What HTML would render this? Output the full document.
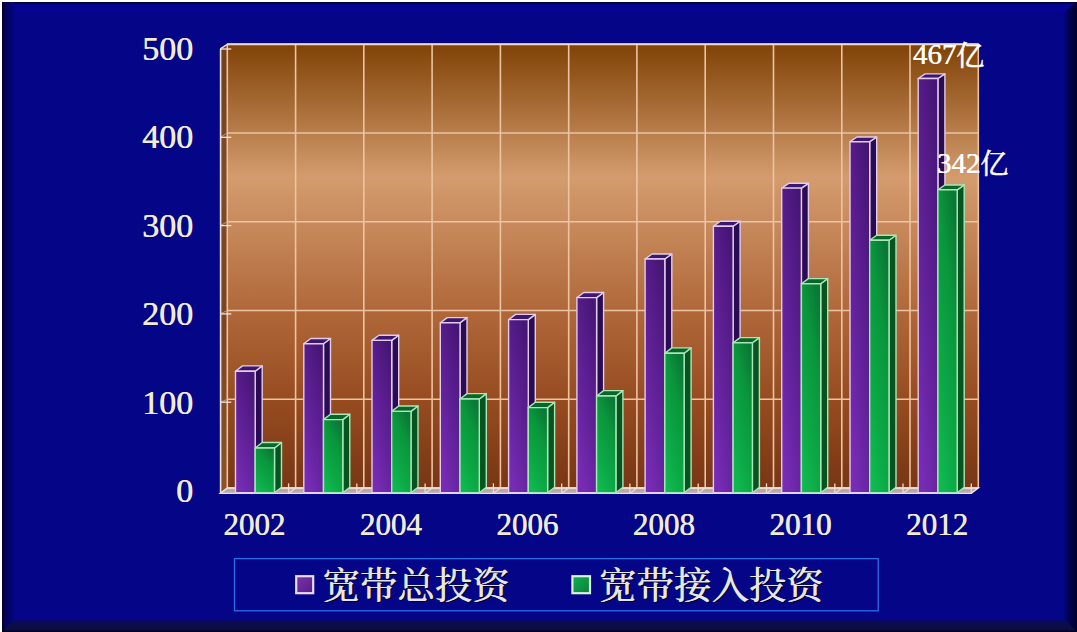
<!DOCTYPE html>
<html><head><meta charset="utf-8"><title>chart</title>
<style>html,body{margin:0;padding:0;background:#fff;}body{width:1077px;height:632px;overflow:hidden;font-family:"Liberation Serif",serif;}svg{display:block;}text{font-family:"Liberation Serif","Noto Serif CJK SC",serif;}</style>
</head><body>
<svg width="1077" height="632" viewBox="0 0 1077 632">
<defs>
<linearGradient id="wall" x1="0" y1="0" x2="0" y2="1"><stop offset="0" stop-color="#804206"/><stop offset="0.30" stop-color="#d49c6e"/><stop offset="0.60" stop-color="#b0683a"/><stop offset="0.80" stop-color="#964c20"/><stop offset="1" stop-color="#783614"/></linearGradient>
<linearGradient id="swall" x1="0" y1="0" x2="0" y2="1"><stop offset="0" stop-color="#70401a"/><stop offset="0.30" stop-color="#7e4c28"/><stop offset="0.60" stop-color="#7a4420"/><stop offset="1" stop-color="#8a5428"/></linearGradient>
<linearGradient id="pf" x1="0.75" y1="0" x2="0.25" y2="1"><stop offset="0" stop-color="#461676"/><stop offset="0.3" stop-color="#561c8a"/><stop offset="0.7" stop-color="#6825a2"/><stop offset="1" stop-color="#782cb6"/></linearGradient>
<linearGradient id="gf" x1="0.75" y1="0" x2="0.25" y2="1"><stop offset="0" stop-color="#0a7836"/><stop offset="0.3" stop-color="#0a963c"/><stop offset="0.7" stop-color="#0ca846"/><stop offset="1" stop-color="#10b850"/></linearGradient>
<linearGradient id="rb" x1="0" y1="0" x2="1" y2="0"><stop offset="0" stop-color="#050588"/><stop offset="0.3" stop-color="#03035e"/><stop offset="0.5" stop-color="#01014c"/><stop offset="1" stop-color="#000028"/></linearGradient>
<linearGradient id="bb" x1="0" y1="0" x2="0" y2="1"><stop offset="0" stop-color="#05057c"/><stop offset="0.25" stop-color="#0c0c4c"/><stop offset="0.8" stop-color="#0c0c44"/><stop offset="1" stop-color="#000010"/></linearGradient>
<linearGradient id="lb" x1="0" y1="0" x2="1" y2="0"><stop offset="0" stop-color="#000018"/><stop offset="0.25" stop-color="#03035c"/><stop offset="0.8" stop-color="#040470"/><stop offset="1" stop-color="#050588"/></linearGradient>
<linearGradient id="tb" x1="0" y1="0" x2="0" y2="1"><stop offset="0" stop-color="#000018"/><stop offset="0.2" stop-color="#04048c"/><stop offset="0.8" stop-color="#040498"/><stop offset="1" stop-color="#050588"/></linearGradient>
</defs>
<rect x="0" y="0" width="1077" height="632" fill="#ffffff"/>
<rect x="2" y="2" width="1075" height="630" fill="#050588"/>
<rect x="2" y="2" width="1075" height="11" fill="url(#tb)"/>
<rect x="2" y="2" width="12" height="630" fill="url(#lb)"/>
<polygon points="1063,13 1077,2 1077,632 1063,620" fill="url(#rb)"/>
<polygon points="2,632 14,619.5 1065,619.5 1077,632" fill="url(#bb)"/>
<polygon points="220.3,48.9 227.3,44.3 227.3,488.0 220.3,493.4" fill="url(#swall)"/>
<rect x="227.3" y="44.3" width="751.0" height="443.7" fill="url(#wall)"/>
<polygon points="220.3,493.4 227.3,488.0 978.3,488.0 971.3,493.4" fill="#b9a8a6"/>
<g stroke="#ecc4a4" stroke-width="1.6" fill="none">
<line x1="227.3" y1="44.3" x2="227.3" y2="488.0"/>
<line x1="295.6" y1="44.3" x2="295.6" y2="488.0"/>
<line x1="363.8" y1="44.3" x2="363.8" y2="488.0"/>
<line x1="432.1" y1="44.3" x2="432.1" y2="488.0"/>
<line x1="500.4" y1="44.3" x2="500.4" y2="488.0"/>
<line x1="568.7" y1="44.3" x2="568.7" y2="488.0"/>
<line x1="636.9" y1="44.3" x2="636.9" y2="488.0"/>
<line x1="705.2" y1="44.3" x2="705.2" y2="488.0"/>
<line x1="773.5" y1="44.3" x2="773.5" y2="488.0"/>
<line x1="841.8" y1="44.3" x2="841.8" y2="488.0"/>
<line x1="910.0" y1="44.3" x2="910.0" y2="488.0"/>
<line x1="978.3" y1="44.3" x2="978.3" y2="488.0"/>
<line x1="227.3" y1="488.0" x2="978.3" y2="488.0"/>
<line x1="227.3" y1="399.3" x2="978.3" y2="399.3"/>
<line x1="227.3" y1="310.5" x2="978.3" y2="310.5"/>
<line x1="227.3" y1="221.8" x2="978.3" y2="221.8"/>
<line x1="227.3" y1="133.0" x2="978.3" y2="133.0"/>
<line x1="227.3" y1="44.3" x2="978.3" y2="44.3"/>
</g>
<line x1="226.8" y1="44.3" x2="978.8" y2="44.3" stroke="#eed8cc" stroke-width="1.9"/>
<g stroke="#c8b4a8" stroke-width="1" opacity="0.75">
<line x1="220.3" y1="493.4" x2="227.3" y2="488.0"/>
<line x1="220.3" y1="402.2" x2="227.3" y2="399.3"/>
<line x1="220.3" y1="313.9" x2="227.3" y2="310.5"/>
<line x1="220.3" y1="225.6" x2="227.3" y2="221.8"/>
<line x1="220.3" y1="137.3" x2="227.3" y2="133.0"/>
<line x1="220.3" y1="49.0" x2="227.3" y2="44.3"/>
</g>
<g stroke="#ece4e4" stroke-width="1.3" fill="none">
<line x1="220.3" y1="402.2" x2="231.3" y2="402.2"/>
<line x1="220.3" y1="313.9" x2="231.3" y2="313.9"/>
<line x1="220.3" y1="225.6" x2="231.3" y2="225.6"/>
<line x1="220.3" y1="137.3" x2="231.3" y2="137.3"/>
<line x1="220.3" y1="49.0" x2="231.3" y2="49.0"/>
<line x1="220.6" y1="48.9" x2="220.6" y2="493.4" stroke-width="1.6"/>
<line x1="220.3" y1="48.9" x2="227.3" y2="44.3" stroke-width="1.3"/>
<polygon points="220.3,493.4 227.3,488.0 978.3,488.0 971.3,493.4" stroke-width="1.4"/>
</g>
<g stroke="#e6dcdc" stroke-width="1.2">
<line x1="295.6" y1="488.0" x2="288.6" y2="493.4"/>
<line x1="363.8" y1="488.0" x2="356.8" y2="493.4"/>
<line x1="432.1" y1="488.0" x2="425.1" y2="493.4"/>
<line x1="500.4" y1="488.0" x2="493.4" y2="493.4"/>
<line x1="568.7" y1="488.0" x2="561.7" y2="493.4"/>
<line x1="636.9" y1="488.0" x2="629.9" y2="493.4"/>
<line x1="705.2" y1="488.0" x2="698.2" y2="493.4"/>
<line x1="773.5" y1="488.0" x2="766.5" y2="493.4"/>
<line x1="841.8" y1="488.0" x2="834.8" y2="493.4"/>
<line x1="910.0" y1="488.0" x2="903.0" y2="493.4"/>
</g>
<g stroke="#f2dcc6" stroke-width="1.3">
<line x1="288.6" y1="483.4" x2="288.6" y2="493.4"/>
<line x1="356.8" y1="483.4" x2="356.8" y2="493.4"/>
<line x1="425.1" y1="483.4" x2="425.1" y2="493.4"/>
<line x1="493.4" y1="483.4" x2="493.4" y2="493.4"/>
<line x1="561.7" y1="483.4" x2="561.7" y2="493.4"/>
<line x1="629.9" y1="483.4" x2="629.9" y2="493.4"/>
<line x1="698.2" y1="483.4" x2="698.2" y2="493.4"/>
<line x1="766.5" y1="483.4" x2="766.5" y2="493.4"/>
<line x1="834.8" y1="483.4" x2="834.8" y2="493.4"/>
<line x1="903.0" y1="483.4" x2="903.0" y2="493.4"/>
<line x1="971.3" y1="483.4" x2="971.3" y2="493.4"/>
</g>
<g stroke="#e2cdea" stroke-width="1.4" stroke-linejoin="round"><polygon points="255.2,371.2 262.2,365.9 262.2,487.2 255.2,492.8" fill="#2a0c54"/><polygon points="235.5,371.2 242.5,365.9 262.2,365.9 255.2,371.2" fill="#3c1670"/><rect x="235.5" y="371.2" width="19.7" height="121.6" fill="url(#pf)"/></g>
<g stroke="#a9e6b8" stroke-width="1.4" stroke-linejoin="round"><polygon points="274.5,448.0 281.5,442.5 281.5,487.2 274.5,492.8" fill="#06541f"/><polygon points="255.2,448.0 262.2,442.5 281.5,442.5 274.5,448.0" fill="#076628"/><rect x="255.2" y="448.0" width="19.3" height="44.8" fill="url(#gf)"/></g>
<g stroke="#e2cdea" stroke-width="1.4" stroke-linejoin="round"><polygon points="323.5,343.7 330.5,338.5 330.5,487.2 323.5,492.8" fill="#2a0c54"/><polygon points="303.8,343.7 310.8,338.5 330.5,338.5 323.5,343.7" fill="#3c1670"/><rect x="303.8" y="343.7" width="19.7" height="149.1" fill="url(#pf)"/></g>
<g stroke="#a9e6b8" stroke-width="1.4" stroke-linejoin="round"><polygon points="342.8,419.6 349.8,414.2 349.8,487.2 342.8,492.8" fill="#06541f"/><polygon points="323.5,419.6 330.5,414.2 349.8,414.2 342.8,419.6" fill="#076628"/><rect x="323.5" y="419.6" width="19.3" height="73.2" fill="url(#gf)"/></g>
<g stroke="#e2cdea" stroke-width="1.4" stroke-linejoin="round"><polygon points="391.7,340.4 398.7,335.2 398.7,487.2 391.7,492.8" fill="#2a0c54"/><polygon points="372.0,340.4 379.0,335.2 398.7,335.2 391.7,340.4" fill="#3c1670"/><rect x="372.0" y="340.4" width="19.7" height="152.4" fill="url(#pf)"/></g>
<g stroke="#a9e6b8" stroke-width="1.4" stroke-linejoin="round"><polygon points="411.0,411.4 418.0,406.0 418.0,487.2 411.0,492.8" fill="#06541f"/><polygon points="391.7,411.4 398.7,406.0 418.0,406.0 411.0,411.4" fill="#076628"/><rect x="391.7" y="411.4" width="19.3" height="81.4" fill="url(#gf)"/></g>
<g stroke="#e2cdea" stroke-width="1.4" stroke-linejoin="round"><polygon points="460.0,322.8 467.0,317.6 467.0,487.2 460.0,492.8" fill="#2a0c54"/><polygon points="440.3,322.8 447.3,317.6 467.0,317.6 460.0,322.8" fill="#3c1670"/><rect x="440.3" y="322.8" width="19.7" height="170.0" fill="url(#pf)"/></g>
<g stroke="#a9e6b8" stroke-width="1.4" stroke-linejoin="round"><polygon points="479.3,399.0 486.3,393.6 486.3,487.2 479.3,492.8" fill="#06541f"/><polygon points="460.0,399.0 467.0,393.6 486.3,393.6 479.3,399.0" fill="#076628"/><rect x="460.0" y="399.0" width="19.3" height="93.8" fill="url(#gf)"/></g>
<g stroke="#e2cdea" stroke-width="1.4" stroke-linejoin="round"><polygon points="528.3,319.6 535.3,314.4 535.3,487.2 528.3,492.8" fill="#2a0c54"/><polygon points="508.6,319.6 515.6,314.4 535.3,314.4 528.3,319.6" fill="#3c1670"/><rect x="508.6" y="319.6" width="19.7" height="173.2" fill="url(#pf)"/></g>
<g stroke="#a9e6b8" stroke-width="1.4" stroke-linejoin="round"><polygon points="547.6,407.6 554.6,402.2 554.6,487.2 547.6,492.8" fill="#06541f"/><polygon points="528.3,407.6 535.3,402.2 554.6,402.2 547.6,407.6" fill="#076628"/><rect x="528.3" y="407.6" width="19.3" height="85.2" fill="url(#gf)"/></g>
<g stroke="#e2cdea" stroke-width="1.4" stroke-linejoin="round"><polygon points="596.6,297.6 603.6,292.5 603.6,487.2 596.6,492.8" fill="#2a0c54"/><polygon points="576.9,297.6 583.9,292.5 603.6,292.5 596.6,297.6" fill="#3c1670"/><rect x="576.9" y="297.6" width="19.7" height="195.2" fill="url(#pf)"/></g>
<g stroke="#a9e6b8" stroke-width="1.4" stroke-linejoin="round"><polygon points="615.9,396.0 622.9,390.6 622.9,487.2 615.9,492.8" fill="#06541f"/><polygon points="596.6,396.0 603.6,390.6 622.9,390.6 615.9,396.0" fill="#076628"/><rect x="596.6" y="396.0" width="19.3" height="96.8" fill="url(#gf)"/></g>
<g stroke="#e2cdea" stroke-width="1.4" stroke-linejoin="round"><polygon points="664.8,259.0 671.8,254.0 671.8,487.2 664.8,492.8" fill="#2a0c54"/><polygon points="645.1,259.0 652.1,254.0 671.8,254.0 664.8,259.0" fill="#3c1670"/><rect x="645.1" y="259.0" width="19.7" height="233.8" fill="url(#pf)"/></g>
<g stroke="#a9e6b8" stroke-width="1.4" stroke-linejoin="round"><polygon points="684.1,353.2 691.1,347.9 691.1,487.2 684.1,492.8" fill="#06541f"/><polygon points="664.8,353.2 671.8,347.9 691.1,347.9 684.1,353.2" fill="#076628"/><rect x="664.8" y="353.2" width="19.3" height="139.6" fill="url(#gf)"/></g>
<g stroke="#e2cdea" stroke-width="1.4" stroke-linejoin="round"><polygon points="733.1,226.2 740.1,221.3 740.1,487.2 733.1,492.8" fill="#2a0c54"/><polygon points="713.4,226.2 720.4,221.3 740.1,221.3 733.1,226.2" fill="#3c1670"/><rect x="713.4" y="226.2" width="19.7" height="266.6" fill="url(#pf)"/></g>
<g stroke="#a9e6b8" stroke-width="1.4" stroke-linejoin="round"><polygon points="752.4,342.8 759.4,337.6 759.4,487.2 752.4,492.8" fill="#06541f"/><polygon points="733.1,342.8 740.1,337.6 759.4,337.6 752.4,342.8" fill="#076628"/><rect x="733.1" y="342.8" width="19.3" height="150.0" fill="url(#gf)"/></g>
<g stroke="#e2cdea" stroke-width="1.4" stroke-linejoin="round"><polygon points="801.4,188.1 808.4,183.3 808.4,487.2 801.4,492.8" fill="#2a0c54"/><polygon points="781.7,188.1 788.7,183.3 808.4,183.3 801.4,188.1" fill="#3c1670"/><rect x="781.7" y="188.1" width="19.7" height="304.7" fill="url(#pf)"/></g>
<g stroke="#a9e6b8" stroke-width="1.4" stroke-linejoin="round"><polygon points="820.7,283.7 827.7,278.6 827.7,487.2 820.7,492.8" fill="#06541f"/><polygon points="801.4,283.7 808.4,278.6 827.7,278.6 820.7,283.7" fill="#076628"/><rect x="801.4" y="283.7" width="19.3" height="209.1" fill="url(#gf)"/></g>
<g stroke="#e2cdea" stroke-width="1.4" stroke-linejoin="round"><polygon points="869.7,141.7 876.7,137.0 876.7,487.2 869.7,492.8" fill="#2a0c54"/><polygon points="850.0,141.7 857.0,137.0 876.7,137.0 869.7,141.7" fill="#3c1670"/><rect x="850.0" y="141.7" width="19.7" height="351.1" fill="url(#pf)"/></g>
<g stroke="#a9e6b8" stroke-width="1.4" stroke-linejoin="round"><polygon points="889.0,240.3 896.0,235.3 896.0,487.2 889.0,492.8" fill="#06541f"/><polygon points="869.7,240.3 876.7,235.3 896.0,235.3 889.0,240.3" fill="#076628"/><rect x="869.7" y="240.3" width="19.3" height="252.5" fill="url(#gf)"/></g>
<g stroke="#e2cdea" stroke-width="1.4" stroke-linejoin="round"><polygon points="937.9,78.5 944.9,73.9 944.9,487.2 937.9,492.8" fill="#2a0c54"/><polygon points="918.2,78.5 925.2,73.9 944.9,73.9 937.9,78.5" fill="#3c1670"/><rect x="918.2" y="78.5" width="19.7" height="414.3" fill="url(#pf)"/></g>
<g stroke="#a9e6b8" stroke-width="1.4" stroke-linejoin="round"><polygon points="957.2,189.8 964.2,185.0 964.2,487.2 957.2,492.8" fill="#06541f"/><polygon points="937.9,189.8 944.9,185.0 964.2,185.0 957.2,189.8" fill="#076628"/><rect x="937.9" y="189.8" width="19.3" height="303.0" fill="url(#gf)"/></g>
<g fill="#f0ecd4" font-size="34px" text-anchor="end">
<text x="193.0" y="502.1">0</text><text x="193.6" y="502.1">0</text>
<text x="193.0" y="413.7">100</text><text x="193.6" y="413.7">100</text>
<text x="193.0" y="325.2">200</text><text x="193.6" y="325.2">200</text>
<text x="193.0" y="236.8">300</text><text x="193.6" y="236.8">300</text>
<text x="193.0" y="148.3">400</text><text x="193.6" y="148.3">400</text>
<text x="193.0" y="59.9">500</text><text x="193.6" y="59.9">500</text>
</g>
<g fill="#f0ecd4" font-size="31px" text-anchor="middle">
<text x="254.2" y="535.0" textLength="62" lengthAdjust="spacingAndGlyphs">2002</text><text x="254.7" y="535.0" textLength="62" lengthAdjust="spacingAndGlyphs">2002</text>
<text x="390.7" y="535.0" textLength="62" lengthAdjust="spacingAndGlyphs">2004</text><text x="391.3" y="535.0" textLength="62" lengthAdjust="spacingAndGlyphs">2004</text>
<text x="527.3" y="535.0" textLength="62" lengthAdjust="spacingAndGlyphs">2006</text><text x="527.8" y="535.0" textLength="62" lengthAdjust="spacingAndGlyphs">2006</text>
<text x="663.8" y="535.0" textLength="62" lengthAdjust="spacingAndGlyphs">2008</text><text x="664.3" y="535.0" textLength="62" lengthAdjust="spacingAndGlyphs">2008</text>
<text x="800.3" y="535.0" textLength="62" lengthAdjust="spacingAndGlyphs">2010</text><text x="800.9" y="535.0" textLength="62" lengthAdjust="spacingAndGlyphs">2010</text>
<text x="936.9" y="535.0" textLength="62" lengthAdjust="spacingAndGlyphs">2012</text><text x="937.4" y="535.0" textLength="62" lengthAdjust="spacingAndGlyphs">2012</text>
</g>
<g fill="#ffffff" font-size="28.8px">
<text x="912.8" y="64.3" textLength="43.5" lengthAdjust="spacingAndGlyphs">467</text><text x="913.2" y="64.3" textLength="43.5" lengthAdjust="spacingAndGlyphs">467</text>
<text x="936.8" y="173.0" textLength="43.5" lengthAdjust="spacingAndGlyphs">342</text><text x="937.2" y="173.0" textLength="43.5" lengthAdjust="spacingAndGlyphs">342</text>
</g>
<text x="956.3" y="65.6" font-size="28px" fill="#ffffff" stroke="#ffffff" stroke-width="0.5">亿</text>
<text x="980.3" y="174.3" font-size="28px" fill="#ffffff" stroke="#ffffff" stroke-width="0.5">亿</text>
<rect x="234.5" y="558.6" width="643.7" height="52.2" fill="none" stroke="#2a6ee6" stroke-width="1.3"/>
<linearGradient id="lp" x1="0" y1="0" x2="1" y2="1"><stop offset="0" stop-color="#7c34ae"/><stop offset="1" stop-color="#561c86"/></linearGradient>
<linearGradient id="lg" x1="0" y1="0" x2="1" y2="1"><stop offset="0" stop-color="#10b050"/><stop offset="1" stop-color="#0a8038"/></linearGradient>
<rect x="296.2" y="576.2" width="17" height="17" fill="url(#lp)" stroke="#eadcf2" stroke-width="2.2"/>
<rect x="572.4" y="576.2" width="17.6" height="17" fill="url(#lg)" stroke="#d8f2de" stroke-width="2.2"/>
<g font-size="37.45px">
<text x="323.9" y="600.3" fill="#00001c" textLength="187.25" lengthAdjust="spacingAndGlyphs">宽带总投资</text>
<text x="322.25" y="599.0" fill="#e8e8e0" textLength="187.25" lengthAdjust="spacingAndGlyphs">宽带总投资</text>
<text x="322.95" y="599.0" fill="#e8e8e0" textLength="187.25" lengthAdjust="spacingAndGlyphs">宽带总投资</text>
<text x="600.5" y="600.3" fill="#00001c" textLength="224.7" lengthAdjust="spacingAndGlyphs">宽带接入投资</text>
<text x="598.85" y="599.0" fill="#e8e8e0" textLength="224.7" lengthAdjust="spacingAndGlyphs">宽带接入投资</text>
<text x="599.55" y="599.0" fill="#e8e8e0" textLength="224.7" lengthAdjust="spacingAndGlyphs">宽带接入投资</text>
</g>
</svg></body></html>
